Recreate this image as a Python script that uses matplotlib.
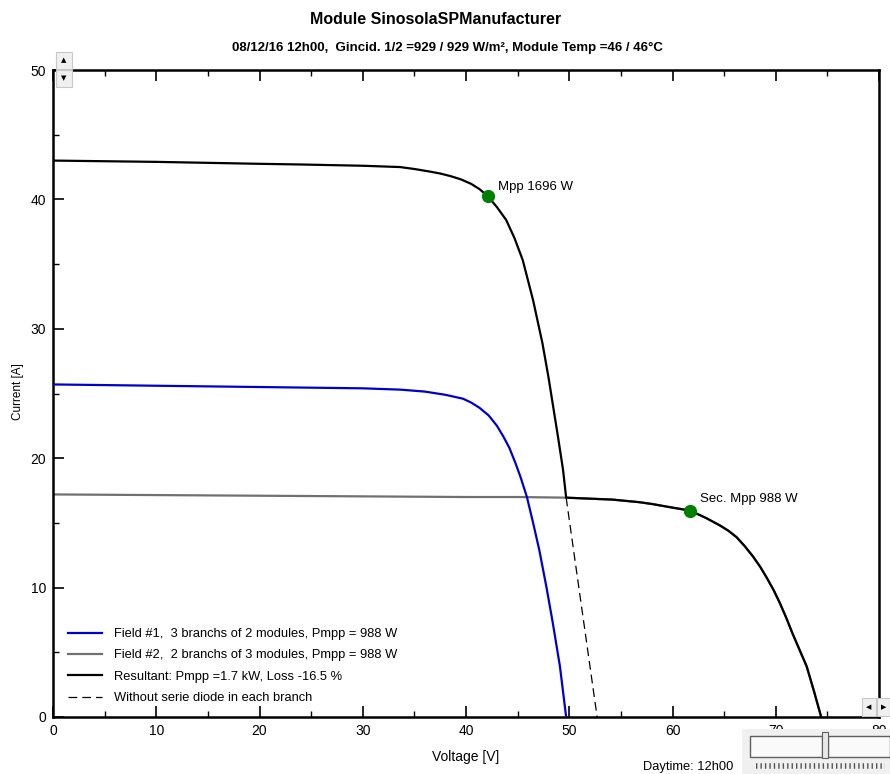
import matplotlib
matplotlib.use("Agg")
import matplotlib.pyplot as plt
from matplotlib.patches import Rectangle
from matplotlib.lines import Line2D

plt.rcParams['font.family'] = ['Liberation Sans Narrow', 'Liberation Sans', 'DejaVu Sans']

# ---- data ----
field1_v = [0, 5, 10, 15, 20, 25, 30, 33.6, 36, 38, 39.7, 40.5, 41.3, 42.2, 43.0, 43.6, 44.2, 44.8,
            45.3, 45.9, 46.5, 47.1, 47.8, 48.4, 49.1, 49.7]
field1_i = [25.7, 25.65, 25.6, 25.55, 25.5, 25.45, 25.4, 25.3, 25.15, 24.9, 24.6, 24.3, 23.9, 23.3, 22.5,
            21.7, 20.8, 19.6, 18.5, 17.0, 15.0, 12.9, 10.0, 7.3, 3.9, 0.0]

field2_v = [0, 10, 20, 30, 40, 45, 49.7, 54.2, 56.8, 58.1, 59.5, 61.7, 63.2, 64.6, 65.4, 66.2, 67.0,
            67.8, 68.5, 69.1, 69.8, 70.4, 71.0, 71.6, 72.3, 73.0, 73.7, 74.4]
field2_i = [17.2, 17.15, 17.1, 17.05, 17.0, 17.0, 16.95, 16.8, 16.6, 16.45, 16.25, 15.95, 15.4, 14.8,
            14.4, 13.9, 13.2, 12.4, 11.6, 10.8, 9.8, 8.8, 7.7, 6.5, 5.2, 3.9, 2.0, 0.0]

result_v = [0, 10, 20, 23.9, 30, 33.6, 35, 36.5, 37.5, 38.5, 39.5, 40.5, 41.3, 42.1, 43.0, 43.9, 44.7,
            45.5, 46.5, 47.4, 48.0, 48.4, 48.9, 49.4, 49.7,
            54.2, 56.8, 58.1, 59.5, 61.7, 63.2, 64.6, 65.4, 66.2, 67.0, 67.8, 68.5, 69.1, 69.8, 70.4,
            71.0, 71.6, 72.3, 73.0, 73.7, 74.4]
result_i = [43.0, 42.9, 42.75, 42.7, 42.6, 42.5, 42.35, 42.15, 42.0, 41.8, 41.55, 41.2, 40.8, 40.25,
            39.4, 38.4, 37.0, 35.3, 32.2, 28.9, 26.2, 24.2, 21.7, 19.1, 16.95,
            16.8, 16.6, 16.45, 16.25, 15.95, 15.4, 14.8, 14.4, 13.9, 13.2, 12.4, 11.6, 10.8, 9.8, 8.8,
            7.7, 6.5, 5.2, 3.9, 2.0, 0.0]

nodiode_v = [49.7, 52.7]
nodiode_i = [16.95, 0.0]

mpp_v, mpp_i = 42.1, 40.25
sec_v, sec_i = 61.7, 15.95

labels = ["Field #1,  3 branchs of 2 modules, Pmpp = 988 W",
          "Field #2,  2 branchs of 3 modules, Pmpp = 988 W",
          "Resultant: Pmpp =1.7 kW, Loss -16.5 %",
          "Without serie diode in each branch"]

title = "Module SinosolaSPManufacturer"
subtitle = "08/12/16 12h00,  Gincid. 1/2 =929 / 929 W/m\u00b2, Module Temp =46 / 46\u00b0C"

W, H = 890, 774
fig = plt.figure(figsize=(W / 100, H / 100), dpi=100)
ax = fig.add_axes([53 / W, 1 - 717 / H, (879 - 53) / W, (717 - 70) / H])

blue, gray, black = '#0000cc', '#707070', '#000000'
ax.plot(field2_v, field2_i, color=gray, lw=1.6, zorder=2)
ax.plot(field1_v, field1_i, color=blue, lw=1.6, zorder=3)
ax.plot(nodiode_v, nodiode_i, color=black, lw=0.9, ls=(0, (7, 4)), zorder=3)
ax.plot(result_v, result_i, color=black, lw=1.6, zorder=4)

ax.plot([mpp_v], [mpp_i], 'o', color='#008000', ms=8.5, zorder=5)
ax.plot([sec_v], [sec_i], 'o', color='#008000', ms=8.5, zorder=5)
ax.annotate("Mpp 1696 W", (mpp_v, mpp_i), xytext=(7.5, 6.5), textcoords='offset points',
            fontsize=9.5, va='center', ha='left')
ax.annotate("Sec. Mpp 988 W", (sec_v, sec_i), xytext=(7.5, 8.5), textcoords='offset points',
            fontsize=9.5, va='center', ha='left')

ax.set_xlim(0, 80)
ax.set_ylim(0, 50)
ax.set_xticks(range(0, 81, 10))
ax.set_xticks(range(5, 80, 10), minor=True)
ax.set_yticks(range(0, 51, 10))
ax.set_yticks(range(5, 50, 10), minor=True)
ax.tick_params(which='major', direction='in', length=8, width=1.2, labelsize=10, pad=5)
ax.tick_params(which='minor', direction='in', length=4, width=1.0)
ax.tick_params(axis='y', which='both', right=False)
ax.tick_params(axis='x', which='both', top=True)
for s in ax.spines.values():
    s.set_linewidth(1.8)

fig.text(466 / W, 1 - 757 / H, "Voltage [V]", ha='center', va='center', fontsize=10)
fig.text(18 / W, 1 - 392 / H, "Current [A]", ha='center', va='center', fontsize=8.5, rotation=90)

handles = [Line2D([], [], color=blue, lw=1.6),
           Line2D([], [], color=gray, lw=1.6),
           Line2D([], [], color=black, lw=1.6),
           Line2D([], [], color=black, lw=0.9, ls=(0, (7, 4)))]
ax.legend(handles, labels, loc='upper left', bbox_to_anchor=(15 / 826, 89 / 647),
          frameon=False, fontsize=9.3, handlelength=2.65, handletextpad=0.9,
          labelspacing=0.72, borderpad=0, borderaxespad=0)

fig.text(436 / W, 1 - 20 / H, title, ha='center', va='center', fontsize=11.5, fontweight='bold')
fig.text(447 / W, 1 - 48 / H, subtitle, ha='center', va='center', fontsize=9.5, fontweight='bold')
fig.text(643 / W, 1 - 767 / H, "Daytime: 12h00", ha='left', va='center', fontsize=9.3)

# UI widgets drawn in figure pixel space
def rect(x0, y0, x1, y1, fc, ec='none', lw=0.8, z=10):
    fig.patches.append(Rectangle((x0 / W, 1 - y1 / H), (x1 - x0) / W, (y1 - y0) / H,
                                 transform=fig.transFigure, fc=fc, ec=ec, lw=lw, zorder=z))

rect(742, 729, 890, 774, '#f0f0f0')
rect(750, 736, 822, 757, '#fafafa', ec='#606060', lw=1.0, z=11)
rect(828, 736, 890, 757, '#fafafa', ec='#606060', lw=1.0, z=11)
rect(822, 732, 828, 758, '#e8e8e8', ec='#606060', lw=0.8, z=12)
fig.add_artist(Line2D([756 / W, 885 / W], [1 - 766 / H, 1 - 766 / H], transform=fig.transFigure,
                      color='#555555', lw=4, ls=(0, (0.25, 0.55)), zorder=12))
for (x0, y0, x1, y1, g) in [(56, 52, 72, 69, '\u25b2'), (56, 70, 72, 87, '\u25bc'),
                            (862, 698, 876, 716, '\u25c0'), (877, 698, 890, 716, '\u25b6')]:
    rect(x0, y0, x1, y1, '#f0f0f0', ec='#c8c8c8', lw=0.8, z=13)
    fig.text((x0 + x1) / 2 / W, 1 - (y0 + y1) / 2 / H, g, ha='center', va='center',
             fontsize=5, family='DejaVu Sans', zorder=14)

fig.savefig("out.png", dpi=100)
